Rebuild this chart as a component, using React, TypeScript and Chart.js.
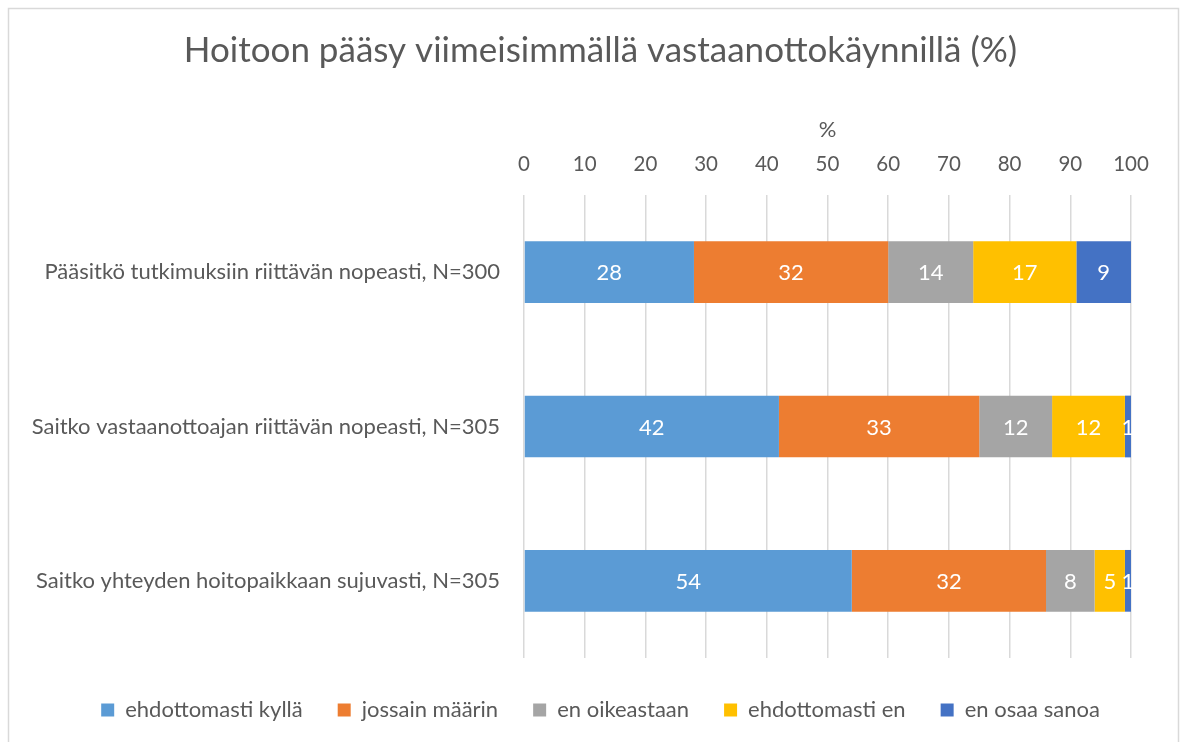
import React, { useEffect, useRef } from "react";
import { Chart, registerables } from "chart.js";

Chart.register(...registerables);

const categories = [
  "Pääsitkö tutkimuksiin riittävän nopeasti, N=300",
  "Saitko vastaanottoajan riittävän nopeasti, N=305",
  "Saitko yhteyden hoitopaikkaan sujuvasti, N=305",
];
const seriesNames = ["ehdottomasti kyllä", "jossain määrin", "en oikeastaan", "ehdottomasti en", "en osaa sanoa"];
const ehdottomastiKylla = [28, 42, 54];
const jossainMaarin = [32, 33, 32];
const enOikeastaan = [14, 12, 8];
const ehdottomastiEn = [17, 12, 5];
const enOsaaSanoa = [9, 1, 1];
const seriesColors = ["#5B9BD5", "#ED7D31", "#A5A5A5", "#FFC000", "#4472C4"];
const xTicks = [0, 10, 20, 30, 40, 50, 60, 70, 80, 90, 100];

const FONT = "Lato, 'Open Sans', sans-serif";
const GREY = "#595959";

const dataLabels = {
  id: "dataLabels",
  afterDatasetsDraw(chart: any) {
    const ctx = chart.ctx;
    ctx.save();
    ctx.fillStyle = "#ffffff";
    ctx.font = `22px ${FONT}`;
    ctx.textAlign = "center";
    ctx.textBaseline = "middle";
    chart.data.datasets.forEach((ds: any, di: number) => {
      const meta = chart.getDatasetMeta(di);
      meta.data.forEach((bar: any, i: number) => {
        const p = bar.getProps(["x", "y", "base"], true);
        const cx = (p.x + p.base) / 2;
        ctx.fillText(String(ds.data[i]), cx, p.y + 1);
      });
    });
    ctx.restore();
  },
};

const frame = {
  id: "frame",
  beforeDraw(chart: any) {
    const ctx = chart.ctx;
    ctx.save();
    ctx.fillStyle = "#ffffff";
    ctx.fillRect(0, 0, chart.width, chart.height);
    ctx.strokeStyle = "#d9d9d9";
    ctx.lineWidth = 1.5;
    ctx.strokeRect(8.5, 8.5, 1170, 800);
    ctx.restore();
  },
};

export default function App() {
  const ref = useRef<HTMLCanvasElement | null>(null);
  useEffect(() => {
    if (!ref.current) return;
    const values = [ehdottomastiKylla, jossainMaarin, enOikeastaan, ehdottomastiEn, enOsaaSanoa];
    const chart = new Chart(ref.current, {
      type: "bar",
      data: {
        labels: categories,
        datasets: values.map((v, i) => ({
          label: seriesNames[i],
          data: v,
          backgroundColor: seriesColors[i],
          borderWidth: 0,
          barPercentage: 0.4,
          categoryPercentage: 1,
        })),
      },
      options: {
        indexAxis: "y",
        animation: false,
        responsive: false,
        layout: { padding: { left: 18, right: 0, top: 0, bottom: 11 } },
        plugins: {
          title: {
            display: true,
            text: "Hoitoon pääsy viimeisimmällä vastaanottokäynnillä (%)",
            color: GREY,
            font: { family: FONT, size: 35, weight: "normal" },
            padding: { top: 30, bottom: 0 },
          },
          legend: {
            position: "bottom",
            labels: {
              color: GREY,
              font: { family: FONT, size: 22 },
              boxWidth: 13,
              boxHeight: 13,
              padding: 35,
            },
          },
          tooltip: { enabled: false },
        },
        scales: {
          x: {
            type: "linear",
            position: "top",
            stacked: true,
            min: 0,
            max: 100,
            afterBuildTicks: (s: any) => {
              s.ticks = xTicks.map((v) => ({ value: v }));
            },
            ticks: { color: GREY, font: { family: FONT, size: 20.5 }, padding: 18 },
            grid: { color: "#d9d9d9", lineWidth: 1.5, drawTicks: false },
            border: { display: false },
            title: {
              display: true,
              text: "%",
              color: GREY,
              font: { family: FONT, size: 22 },
              padding: { top: 45, bottom: 0 },
            },
            afterFit: (s: any) => {
              s.height = 195 - 72;
            },
          },
          xb: {
            type: "linear",
            position: "bottom",
            min: 0,
            max: 100,
            display: true,
            ticks: { display: false },
            grid: { display: false, drawTicks: false },
            border: { display: false },
            afterFit: (s: any) => {
              s.height = 6;
            },
          },
          y: {
            stacked: true,
            ticks: { color: GREY, font: { family: FONT, size: 22 }, padding: 24 },
            grid: { display: false, drawTicks: false },
            border: { display: false },
            afterFit: (s: any) => {
              s.width = 524 - 18;
            },
          },
          yr: {
            type: "category",
            position: "right",
            labels: categories,
            display: true,
            ticks: { display: false },
            grid: { display: false, drawTicks: false },
            border: { display: false },
            afterFit: (s: any) => {
              s.width = 1183 - 1131;
            },
          },
        },
      } as any,
      plugins: [frame, dataLabels],
    });
    return () => chart.destroy();
  }, []);
  return (
    <div style={{ position: "absolute", left: 0, top: 0, width: 1183, height: 742 }}>
      <canvas ref={ref} width={1183} height={742} style={{ display: "block" }} />
    </div>
  );
}
